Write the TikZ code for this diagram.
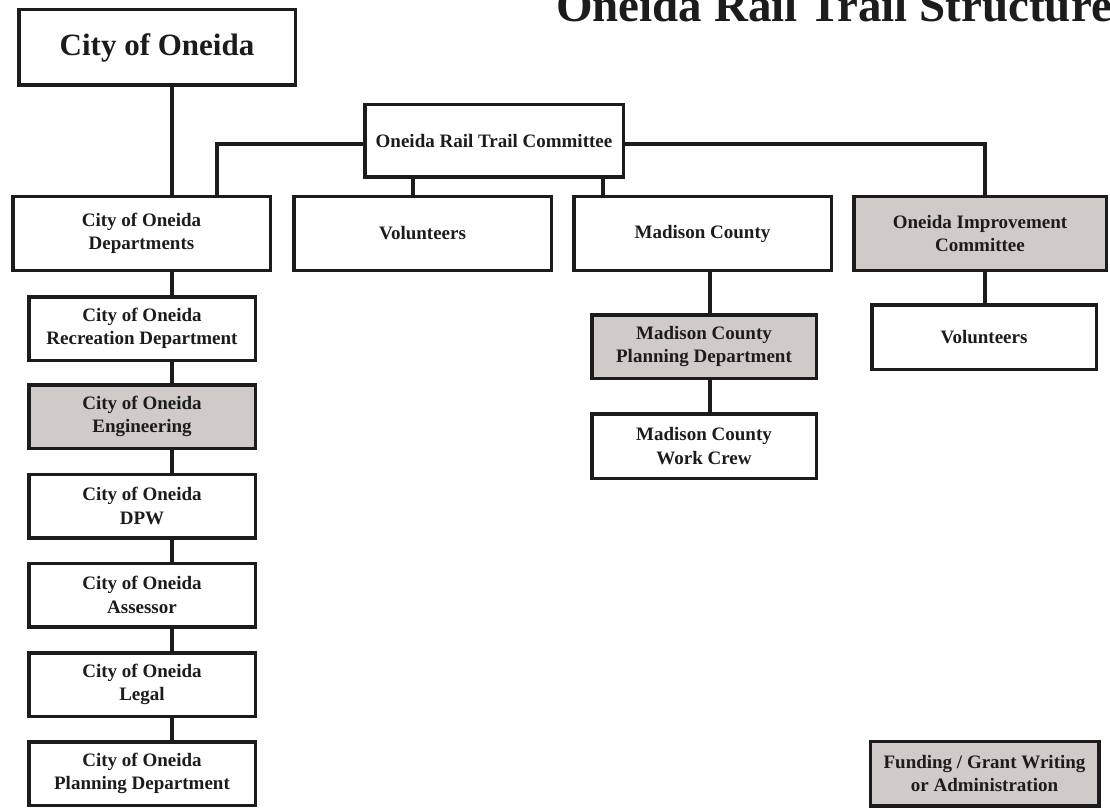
\documentclass[tikz,border=0pt]{standalone}
\usepackage{fontspec}
\setmainfont{Liberation Serif}
\definecolor{boxgrey}{RGB}{208,203,201}
\definecolor{ink}{RGB}{28,28,28}
\begin{document}
\begin{tikzpicture}[x=1pt,y=-1pt,
  box/.style={draw=ink, line width=3.5pt, fill=white, inner sep=0pt, align=center,
    font=\bfseries\fontsize{19}{23.5}\selectfont, text=ink},
  greybox/.style={box, fill=boxgrey},
  rowbox/.style={minimum width=257.5pt, minimum height=73.5pt},
  colbox/.style={minimum width=226.5pt, minimum height=63.5pt},
  conn/.style={draw=ink, line width=3.5pt}]
\useasboundingbox (0,0) rectangle (1110,810);
\clip (0,0) rectangle (1110,810);
\fill[white] (0,0) rectangle (1110,810);

% title (cut off at the top edge, as in the reference)
\node[anchor=base west, inner sep=0pt, text=ink, font=\bfseries\fontsize{47}{50}\selectfont] (title) at (556,22) {Oneida Rail Trail Structure};

% top boxes
\node[box, minimum width=276.5pt, minimum height=75.5pt, font=\bfseries\fontsize{31}{36}\selectfont] (city) at (157,47.5) {City of Oneida};
\node[box, minimum width=258.5pt, minimum height=72.5pt] (committee) at (494,141) {Oneida Rail Trail Committee};

% second row
\node[box, rowbox] (dept) at (141.5,233.5) {City of Oneida\\Departments};
\node[box, rowbox] (vol1) at (422.5,233.5) {Volunteers};
\node[box, rowbox] (madison) at (702.5,233.5) {Madison County};
\node[greybox, minimum width=252.5pt, minimum height=73.5pt] (oic) at (980,233.5) {Oneida Improvement\\Committee};

% left column
\node[box, colbox] (rec) at (142,328.5) {City of Oneida\\Recreation Department};
\node[greybox, colbox] (eng) at (142,416.5) {City of Oneida\\Engineering};
\node[box, colbox] (dpw) at (142,506) {City of Oneida\\DPW};
\node[box, colbox] (assess) at (142,595) {City of Oneida\\Assessor};
\node[box, colbox] (legal) at (142,684.5) {City of Oneida\\Legal};
\node[box, colbox] (cplan) at (142,773.5) {City of Oneida\\Planning Department};

% Madison column
\node[greybox, minimum width=224.5pt, minimum height=63.5pt] (mcplan) at (704,346.5) {Madison County\\Planning Department};
\node[box, minimum width=224.5pt, minimum height=64.5pt] (mcwork) at (704,446) {Madison County\\Work Crew};

% right column
\node[box, minimum width=224.5pt, minimum height=64.5pt] (vol2) at (984,337) {Volunteers};
\node[greybox, minimum width=228.5pt, minimum height=64.5pt] (funding) at (984.5,773.5) {Funding / Grant Writing\\or Administration};

% connector x positions
\coordinate (lx) at (172,0);
\coordinate (cl) at (217,0);
\coordinate (cv) at (413,0);
\coordinate (cm) at (603,0);
\coordinate (mx) at (710,0);
\coordinate (ox) at (985,0);
\coordinate (cy) at (0,144);

% connectors
\draw[conn] (city.south -| lx) -- (dept.north -| lx);
\draw[conn] (committee.west |- cy) -| (dept.north -| cl);
\draw[conn] (committee.east |- cy) -| (oic.north -| ox);
\draw[conn] (committee.south -| cv) -- (vol1.north -| cv);
\draw[conn] (committee.south -| cm) -- (madison.north -| cm);
\draw[conn] (dept.south -| lx) -- (rec.north -| lx);
\draw[conn] (rec.south -| lx) -- (eng.north -| lx);
\draw[conn] (eng.south -| lx) -- (dpw.north -| lx);
\draw[conn] (dpw.south -| lx) -- (assess.north -| lx);
\draw[conn] (assess.south -| lx) -- (legal.north -| lx);
\draw[conn] (legal.south -| lx) -- (cplan.north -| lx);
\draw[conn] (madison.south -| mx) -- (mcplan.north -| mx);
\draw[conn] (mcplan.south -| mx) -- (mcwork.north -| mx);
\draw[conn] (oic.south -| ox) -- (vol2.north -| ox);
\end{tikzpicture}
\end{document}
